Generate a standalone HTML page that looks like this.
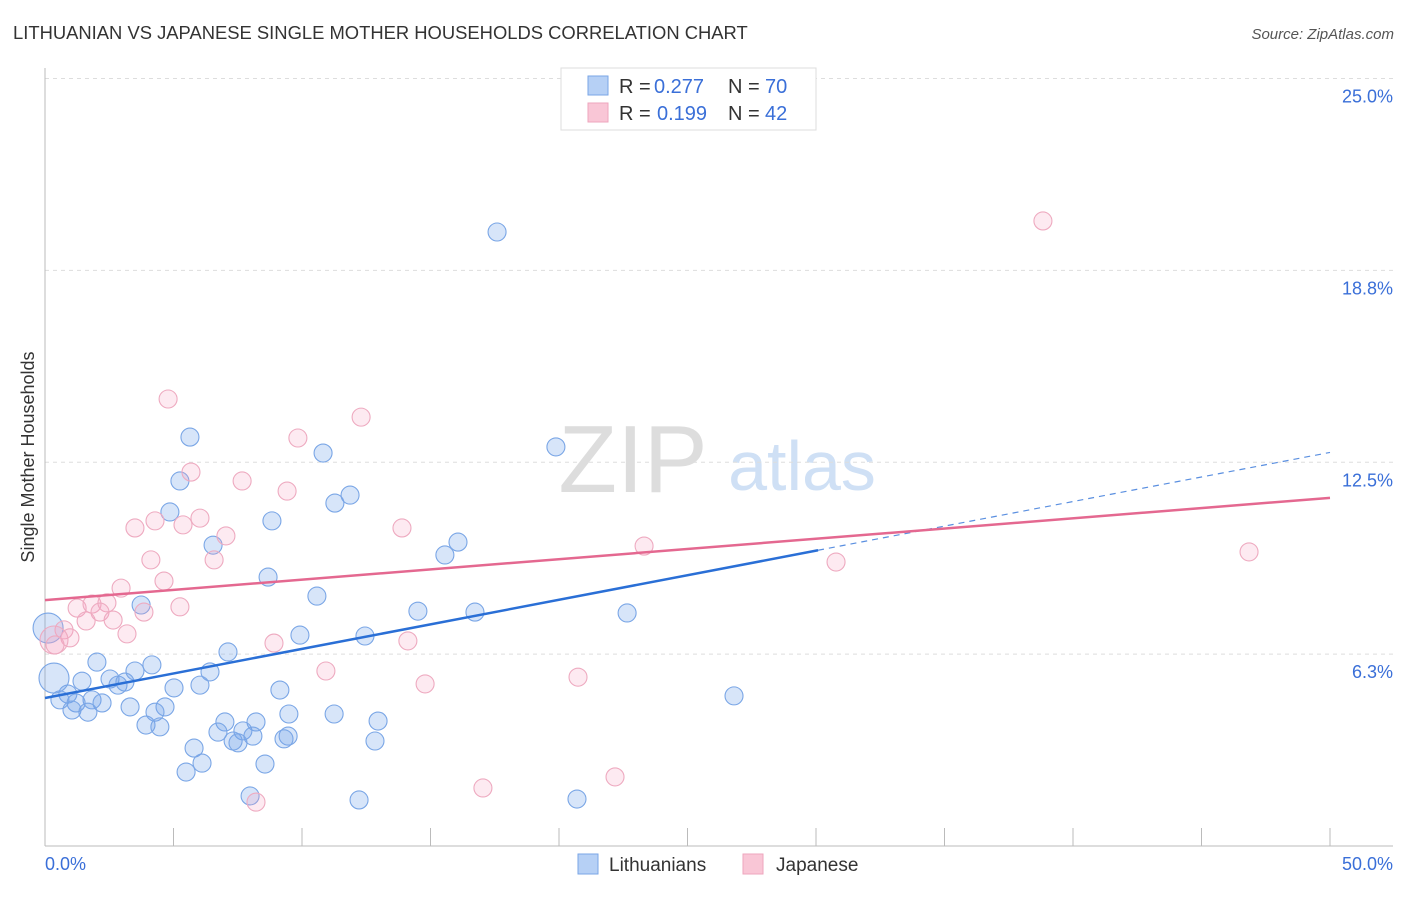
<!DOCTYPE html>
<html><head><meta charset="utf-8"><style>
body{margin:0;background:#fff;font-family:"Liberation Sans",sans-serif;}
svg text{font-family:"Liberation Sans",sans-serif;}
</style></head><body>
<svg width="1406" height="892" viewBox="0 0 1406 892" id="chart">
<text x="13" y="39" font-size="18.4" fill="#333">LITHUANIAN VS JAPANESE SINGLE MOTHER HOUSEHOLDS CORRELATION CHART</text>
<text x="1394" y="39" font-size="15" fill="#555" font-style="italic" text-anchor="end">Source: ZipAtlas.com</text>
<g>
<text x="633" y="492" font-size="96" font-family="Liberation Serif,serif" fill="#ddd" text-anchor="middle">ZIP</text>
<text x="802" y="490" font-size="70" fill="#cfe0f5" text-anchor="middle">atlas</text>
</g>
<g id="grid"></g>
<g id="axes"></g>
<g id="points"></g>
<g id="trends"></g>
<g>
<rect x="561" y="68" width="255" height="62" fill="#fff" stroke="#ddd"/>
<rect x="588" y="76" width="20" height="19" fill="#b6d0f5" stroke="#7aa6e6"/>
<rect x="588" y="103" width="20" height="19" fill="#f9c6d6" stroke="#eea6bd"/>
<text x="619" y="93" font-size="20" fill="#333">R =</text>
<text x="654" y="93" font-size="20" fill="#3a6fd8">0.277</text>
<text x="728" y="93" font-size="20" fill="#333">N =</text>
<text x="765" y="93" font-size="20" fill="#3a6fd8">70</text>
<text x="619" y="120" font-size="20" fill="#333">R =</text>
<text x="657" y="120" font-size="20" fill="#3a6fd8">0.199</text>
<text x="728" y="120" font-size="20" fill="#333">N =</text>
<text x="765" y="120" font-size="20" fill="#3a6fd8">42</text>
</g>
<g>
<rect x="578" y="854" width="20" height="20" fill="#b6d0f5" stroke="#7aa6e6"/>
<text x="609" y="871" font-size="19" fill="#333">Lithuanians</text>
<rect x="743" y="854" width="20" height="20" fill="#f9c6d6" stroke="#eea6bd"/>
<text x="776" y="871" font-size="19" fill="#333">Japanese</text>
</g>
<text transform="translate(34,457) rotate(-90)" font-size="18" fill="#333" text-anchor="middle">Single Mother Households</text>
</svg>
<script>
const yTicks=[6.25,12.5,18.75,25];
const yTickLabels=["6.3%","12.5%","18.8%","25.0%"];
const xTickLabels=["0.0%","50.0%"];
const blueX=[17.59,19.88,5.64,10.82,5.25,11.87,11.28,4.86,8.83,16.07,15.56,6.54,8.68,10.58,3.74,14.51,16.73,22.65,9.92,12.45,7.12,2.02,4.16,3.50,6.42,1.44,2.53,2.84,3.11,5.02,6.03,9.14,26.81,0.89,0.58,1.83,2.22,1.21,1.05,1.67,3.31,4.67,4.28,9.49,11.25,12.96,3.93,4.47,7.00,8.21,6.73,7.70,8.09,9.46,9.30,7.32,7.51,12.84,5.80,6.11,5.49,8.56,7.98,12.22,20.70,0.35,0.12];
const blueY=[20.0,13.0,13.32,12.80,11.89,11.43,11.17,10.88,10.59,9.90,9.48,9.80,8.76,8.14,7.85,7.65,7.62,7.59,6.87,6.84,6.32,5.99,5.90,5.70,5.67,5.37,5.44,5.24,5.34,5.15,5.24,5.08,4.89,4.95,4.76,4.76,4.66,4.66,4.43,4.36,4.53,4.53,4.36,4.30,4.30,4.07,3.94,3.88,4.04,4.04,3.71,3.75,3.58,3.58,3.49,3.42,3.36,3.42,3.19,2.70,2.41,2.67,1.63,1.50,1.53,5.47,7.10];
const blueBig=[0,0,0,0,0,0,0,0,0,0,0,0,0,0,0,0,0,0,0,0,0,0,0,0,0,0,0,0,0,0,0,0,0,0,0,0,0,0,0,0,0,0,0,0,0,0,0,0,0,0,0,0,0,0,0,0,0,0,0,0,0,0,0,0,0,1,1];
const pinkX=[4.79,12.30,9.84,5.68,7.67,9.42,4.28,5.37,6.03,3.50,7.04,13.89,4.12,6.58,2.96,4.63,5.25,1.25,1.83,2.41,2.14,3.85,1.60,2.65,0.74,3.19,0.97,8.91,14.12,10.93,14.79,20.74,23.31,30.78,46.85,38.83,22.18,17.04,8.21,0.35,0.39];
const pinkY=[14.56,13.97,13.29,12.18,11.89,11.56,10.59,10.46,10.68,10.36,10.10,10.36,9.32,9.32,8.40,8.63,7.79,7.75,7.88,7.92,7.62,7.62,7.33,7.36,7.04,6.91,6.78,6.61,6.68,5.70,5.28,5.50,9.77,9.25,9.58,20.36,2.25,1.89,1.43,6.71,6.55];
const blueTrend=[4.82,0.160];
const pinkTrend=[8.01,0.0666];
const NS="http://www.w3.org/2000/svg";
const X=v=>45+v*25.7, Y=v=>846-v*30.7;
function mk(t,a,p){const e=document.createElementNS(NS,t);for(const k in a)e.setAttribute(k,a[k]);p.appendChild(e);return e;}
const grid=document.getElementById('grid'),axes=document.getElementById('axes'),pts=document.getElementById('points'),tr=document.getElementById('trends');
yTicks.forEach((t,i)=>{
 const l=mk('line',{x1:45,x2:1393,y1:Y(t),y2:Y(t),stroke:'#ddd','stroke-dasharray':'4,4'},grid);
 
 
 const tx=mk('text',{x:1393,y:Y(t)+24,'font-size':18,fill:'#3a6fd8','text-anchor':'end'},axes);
 tx.textContent=yTickLabels[i];
 
 
});
mk('line',{x1:45,x2:45,y1:68,y2:846,stroke:'#bbb'},axes);
mk('line',{x1:45,x2:1393,y1:846,y2:846,stroke:'#bbb'},axes);
for(let i=0;i<=10;i++){const t=mk('line',{x1:X(i*5),x2:X(i*5),y1:828,y2:846,stroke:'#bbb'},axes);
 
 }
[[0,'start',45],[1,'end',1393]].forEach(([i,a,x])=>{const t=mk('text',{x:x,y:870,'font-size':18,fill:'#3a6fd8','text-anchor':a},axes);t.textContent=xTickLabels[i];
 
 });
blueX.forEach((v,i)=>{const c=mk('circle',{cx:X(v),cy:Y(blueY[i]),r:blueBig[i]?15:9,fill:'rgba(110,160,235,0.28)',stroke:'#7aa6e6','stroke-width':1.1},pts);
 
 });
pinkX.forEach((v,i)=>{const c=mk('circle',{cx:X(v),cy:Y(pinkY[i]),r:i==39?14:9,fill:'rgba(245,160,190,0.22)',stroke:'#eeaac0','stroke-width':1.1},pts);
 
 });
const bl=mk('line',{x1:X(0),y1:Y(blueTrend[0]),x2:X(30.08),y2:Y(blueTrend[0]+blueTrend[1]*30.08),stroke:'#2a6fd6','stroke-width':2.5},tr);


const bd=mk('line',{x1:X(30.08),y1:Y(blueTrend[0]+blueTrend[1]*30.08),x2:X(50),y2:Y(blueTrend[0]+blueTrend[1]*50),stroke:'#5a8fe0','stroke-width':1.2,'stroke-dasharray':'6,5'},tr);


const pl=mk('line',{x1:X(0),y1:Y(pinkTrend[0]),x2:X(50),y2:Y(pinkTrend[0]+pinkTrend[1]*50),stroke:'#e46890','stroke-width':2.5},tr);


</script>
</body></html>
